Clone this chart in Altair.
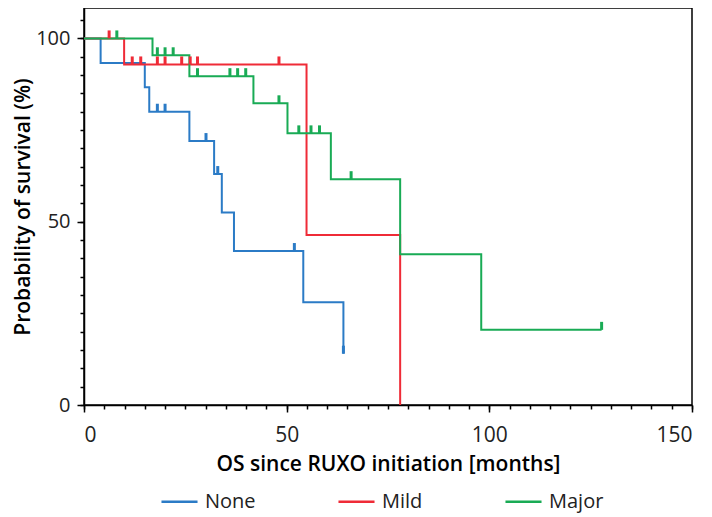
import altair as alt
import pandas as pd

groups = ["None", "Mild", "Major"]
colors = ["#2b7bc6", "#ef2b37", "#19ab55"]

# Kaplan-Meier step points (time in months, survival in %)
none_t = [0, 4.1, 15.0, 16.1, 26.0, 32.1, 34.0, 37.0, 54.1, 64.0]
none_s = [100, 93.3, 86.7, 80.0, 72.0, 63.0, 52.5, 42.0, 28.0, 14.0]
none_ct = [18.1, 20.0, 30.1, 33.0, 51.9, 64.0]
none_cs = [80.0, 80.0, 72.0, 63.0, 42.0, 14.0]

mild_t = [0, 9.9, 54.9, 78.0]
mild_s = [100, 92.9, 46.4, 0]
mild_ct = [6.2, 11.9, 14.0, 18.1, 20.0, 24.1, 26.2, 28.0, 48.1]
mild_cs = [100, 92.9, 92.9, 92.9, 92.9, 92.9, 92.9, 92.9, 92.9]

major_t = [0, 16.9, 26.0, 41.8, 50.2, 60.9, 78.0, 98.0, 127.7]
major_s = [100, 95.4, 89.7, 82.3, 74.1, 61.6, 41.1, 20.5, 20.5]
major_ct = [8.1, 18.1, 20.0, 22.0, 28.0, 36.0, 37.9, 39.9, 48.1, 53.0, 56.0, 58.1, 65.9, 127.7]
major_cs = [100, 95.4, 95.4, 95.4, 89.7, 89.7, 89.7, 89.7, 82.3, 74.1, 74.1, 74.1, 61.6, 20.5]

x_major = [0, 50, 100, 150]
x_minor = list(range(0, 151, 5))
y_major = [0, 50, 100]
y_minor = list(range(0, 106, 5))

lines = []
cens = []
for g, t, s, ct, cs in [
    ("None", none_t, none_s, none_ct, none_cs),
    ("Mild", mild_t, mild_s, mild_ct, mild_cs),
    ("Major", major_t, major_s, major_ct, major_cs),
]:
    for a, b in zip(t, s):
        lines.append({"group": g, "time": a, "surv": b})
    for a, b in zip(ct, cs):
        cens.append({"group": g, "time": a, "surv": b})

lines_df = pd.DataFrame(lines)
cens_df = pd.DataFrame(cens)

FONT = "Open Sans"
xscale = alt.Scale(domain=[0, 150], nice=False, zero=False)
yscale = alt.Scale(domain=[0, 108.3], nice=False, zero=False)
cscale = alt.Scale(domain=groups, range=colors)

line = alt.Chart(lines_df).mark_line(interpolate="step-after", strokeWidth=2).encode(
    x=alt.X("time:Q", scale=xscale,
            axis=alt.Axis(values=x_major, orient="bottom", title="OS since RUXO initiation [months]",
                          tickSize=7, labelFontSize=21, labelPadding=12,
                          titleFontSize=21, titleFontWeight=600, titlePadding=8,
                          grid=False)),
    y=alt.Y("surv:Q", scale=yscale,
            axis=alt.Axis(values=y_major, orient="left", title="Probability of survival (%)",
                          tickSize=7, labelFontSize=20, labelPadding=7,
                          titleFontSize=21, titleFontWeight=600, titlePadding=2,
                          grid=False)),
    color=alt.Color("group:N", scale=cscale, sort=groups,
                    legend=alt.Legend(title=None, orient="none", direction="horizontal",
                                      legendX=76, legendY=474, symbolType="stroke",
                                      symbolSize=1300, symbolStrokeWidth=2.5,
                                      labelFontSize=20, labelFont=FONT, labelColor="#222",
                                      columnPadding=77, labelOffset=6)),
    detail="group:N",
)

ticks = alt.Chart(cens_df).mark_tick(orient="vertical", thickness=3, size=8, yOffset=-4, opacity=1).encode(
    x=alt.X("time:Q", scale=xscale,
            axis=alt.Axis(values=x_minor, orient="bottom", labels=False, title=None, tickSize=4,
                          domain=False, grid=False)),
    y=alt.Y("surv:Q", scale=yscale,
            axis=alt.Axis(values=y_minor, orient="left", labels=False, title=None, tickSize=4,
                          domain=False, grid=False)),
    color=alt.Color("group:N", scale=cscale, sort=groups, legend=None),
)

chart = alt.layer(line, ticks).resolve_axis(x="independent", y="independent").properties(
    width=608, height=397,
    autosize=alt.AutoSizeParams(type="none"),
    padding={"left": 76, "top": 0, "right": 12, "bottom": 112},
).configure_view(stroke="#000", strokeWidth=1.5).configure_axis(
    domainColor="#000", domainWidth=1.5, tickColor="#000", tickWidth=1.5,
    labelFont=FONT, titleFont=FONT, labelColor="#222", titleColor="#000",
)

chart.save("out.html", embed_options={"renderer": "svg", "actions": False})
